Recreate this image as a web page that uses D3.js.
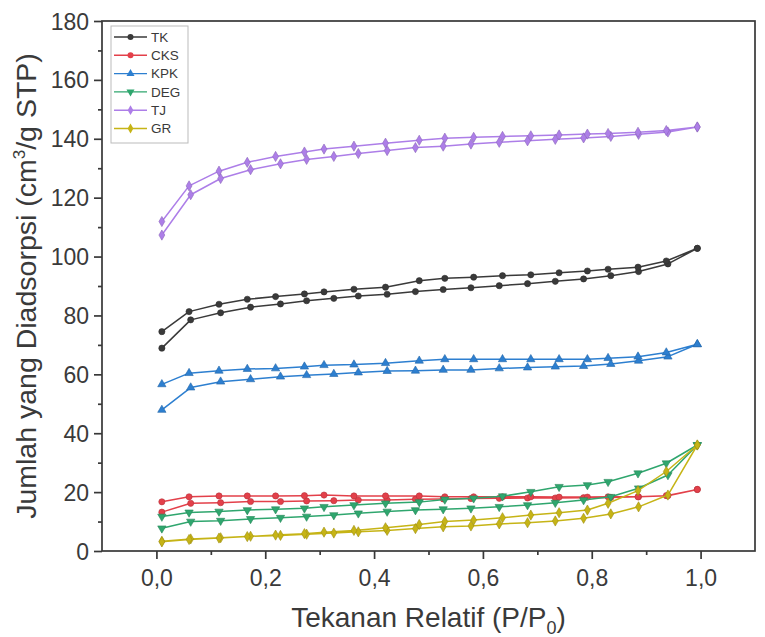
<!DOCTYPE html>
<html>
<head>
<meta charset="utf-8">
<script src="https://cdn.jsdelivr.net/npm/d3@7"></script>
<style>
  html, body { margin: 0; padding: 0; background: #fff; }
  svg { display: block; font-family: "Liberation Sans", Arial, sans-serif; }
</style>
</head>
<body>
<svg id="chart" width="765" height="637"></svg>
<script>
// Relative pressure points (adsorption: rising, desorption: falling)
const adsP = [0.010, 0.063, 0.118, 0.173, 0.228, 0.276, 0.326, 0.371, 0.424, 0.476,
              0.527, 0.578, 0.630, 0.682, 0.733, 0.785, 0.835, 0.886, 0.940, 0.994];
const desP = [0.994, 0.937, 0.885, 0.830, 0.792, 0.740, 0.688, 0.636, 0.583, 0.530,
              0.483, 0.421, 0.363, 0.308, 0.272, 0.219, 0.167, 0.115, 0.060, 0.010];

// Adsorbed volume (cm3/g STP)
const tkAds  = [68.9, 78.5, 80.9, 82.8, 83.9, 85.0, 85.8, 86.6, 87.2, 88.1,
                88.8, 89.4, 90.1, 90.8, 91.6, 92.4, 93.5, 94.9, 97.5, 102.8];
const tkDes  = [102.8, 98.5, 96.4, 95.7, 95.1, 94.5, 93.8, 93.5, 93.0, 92.6,
                91.8, 89.6, 88.9, 88.0, 87.3, 86.4, 85.5, 83.8, 81.3, 74.5];
const cksAds = [13.2, 16.2, 16.4, 16.8, 16.8, 17.0, 17.1, 17.3, 17.3, 17.6,
                17.7, 17.8, 17.9, 18.0, 18.0, 18.1, 18.2, 18.4, 18.8, 20.9];
const cksDes = [20.9, 18.8, 18.4, 18.4, 18.3, 18.3, 18.4, 18.4, 18.4, 18.4,
                18.7, 18.7, 18.7, 19.0, 18.8, 18.7, 18.7, 18.7, 18.4, 16.7];
const kpkAds = [47.9, 55.5, 57.5, 58.3, 59.2, 59.7, 60.1, 60.6, 61.1, 61.2,
                61.5, 61.5, 62.0, 62.3, 62.6, 62.8, 63.5, 64.6, 66.0, 70.2];
const kpkDes = [70.2, 67.4, 66.0, 65.5, 65.1, 65.1, 65.1, 65.1, 65.1, 65.1,
                64.6, 63.8, 63.3, 63.1, 62.6, 62.0, 61.8, 61.2, 60.4, 56.6];
const degAds = [7.7, 10.0, 10.3, 10.9, 11.3, 11.7, 12.2, 12.8, 13.4, 13.9,
                14.2, 14.5, 15.0, 15.6, 16.4, 17.3, 18.4, 21.3, 25.8, 36.0];
const degDes = [36.0, 29.8, 26.4, 23.5, 22.4, 21.8, 20.1, 18.6, 17.9, 17.5,
                16.6, 16.2, 15.6, 15.0, 14.5, 14.2, 13.9, 13.4, 13.1, 11.7];
const tjAds  = [107.3, 121.0, 126.5, 129.5, 131.5, 133.0, 134.0, 135.0, 136.0, 137.0,
                137.5, 138.2, 138.8, 139.3, 139.8, 140.3, 140.8, 141.5, 142.3, 144.0];
const tjDes  = [144.0, 142.8, 142.2, 141.8, 141.6, 141.3, 141.0, 140.8, 140.5, 140.2,
                139.5, 138.5, 137.5, 136.5, 135.5, 134.0, 132.0, 129.0, 124.0, 111.9];
const grAds  = [3.3, 4.1, 4.5, 5.0, 5.3, 5.7, 6.1, 6.5, 7.0, 7.6,
                8.2, 8.5, 9.2, 9.6, 10.2, 11.1, 12.6, 15.0, 19.0, 36.0];
const grDes  = [36.0, 27.0, 20.5, 16.2, 13.9, 13.0, 12.2, 11.3, 10.5, 10.0,
                9.0, 7.9, 7.0, 6.4, 5.9, 5.4, 4.9, 4.4, 3.9, 3.1];

const seriesNames = ["TK", "CKS", "KPK", "DEG", "TJ", "GR"];
const seriesAds = [tkAds, cksAds, kpkAds, degAds, tjAds, grAds];
const seriesDes = [tkDes, cksDes, kpkDes, degDes, tjDes, grDes];
const seriesColors = ["#3a3a3a", "#e3404a", "#2d7fd0", "#2fa66e", "#ad7ee8", "#c6b416"];
const seriesSymbols = [d3.symbolCircle, d3.symbolCircle, d3.symbolTriangle,
                       d3.symbolTriangle, d3.symbolDiamond, d3.symbolDiamond];
const symbolRotate = [0, 0, 0, 180, 0, 0];

const xTicks = [0, 0.2, 0.4, 0.6, 0.8, 1.0];
const yTicks = [0, 20, 40, 60, 80, 100, 120, 140, 160, 180];

const svg = d3.select("#chart");
const plotLeft = 102, plotRight = 755, plotTop = 21, plotBottom = 551;

const x = d3.scaleLinear().domain([-0.1, 1.1]).range([plotLeft, plotRight]);
const y = d3.scaleLinear().domain([0, 180]).range([plotBottom, plotTop]);

const axisColor = "#383838";
const textColor = "#3a3a3a";

// Frame
svg.append("rect")
  .attr("x", plotLeft).attr("y", plotTop)
  .attr("width", plotRight - plotLeft).attr("height", plotBottom - plotTop)
  .attr("fill", "none").attr("stroke", axisColor).attr("stroke-width", 1.7);

// Bottom axis
const fmt = d => d3.format(".1f")(d).replace(".", ",");
const xAxis = d3.axisBottom(x).tickValues(xTicks).tickFormat(fmt).tickSize(8).tickPadding(6);
const gx = svg.append("g").attr("transform", `translate(0,${plotBottom})`).call(xAxis);
const xMinor = d3.axisBottom(x).tickValues([0.1, 0.3, 0.5, 0.7, 0.9]).tickFormat("").tickSize(4);
const gxm = svg.append("g").attr("transform", `translate(0,${plotBottom})`).call(xMinor);

// Left axis
const yAxis = d3.axisLeft(y).tickValues(yTicks).tickFormat(d3.format("d")).tickSize(8).tickPadding(5);
const gy = svg.append("g").attr("transform", `translate(${plotLeft},0)`).call(yAxis);
const yMinor = d3.axisLeft(y).tickValues(d3.range(10, 180, 20)).tickFormat("").tickSize(4);
const gym = svg.append("g").attr("transform", `translate(${plotLeft},0)`).call(yMinor);

[gx, gxm, gy, gym].forEach(g => {
  g.select(".domain").remove();
  g.selectAll(".tick line").attr("stroke", axisColor).attr("stroke-width", 1.7);
  g.selectAll(".tick text").attr("fill", textColor).attr("font-size", 23)
    .attr("font-family", "Liberation Sans, Arial, sans-serif");
});
gx.selectAll(".tick text").attr("dy", "0.9em");
gy.selectAll(".tick text").attr("dy", "0.35em");

// Axis titles
const xt = svg.append("text")
  .attr("x", x(0.5)).attr("y", 627)
  .attr("text-anchor", "middle").attr("font-size", 28).attr("fill", textColor);
xt.append("tspan").text("Tekanan Relatif (P/P");
xt.append("tspan").attr("font-size", 18).attr("dy", 7).text("0");
xt.append("tspan").attr("dy", -7).text(")");

const yt = svg.append("text")
  .attr("transform", `translate(36,${y(90)}) rotate(-90)`)
  .attr("text-anchor", "middle").attr("font-size", 28.5).attr("fill", textColor);
yt.append("tspan").text("Jumlah yang Diadsorpsi (cm");
yt.append("tspan").attr("font-size", 17).attr("dy", -11).text("3");
yt.append("tspan").attr("dy", 11).text("/g STP)");

// Isotherm loops: adsorption branch followed by desorption branch
const line = d3.line().x(d => x(d[0])).y(d => y(d[1]));
const plot = svg.append("g");

seriesNames.forEach((name, i) => {
  const pts = adsP.map((p, k) => [p, seriesAds[i][k]])
    .concat(desP.map((p, k) => [p, seriesDes[i][k]]));
  const g = plot.append("g");
  g.append("path")
    .attr("d", line(pts))
    .attr("fill", "none")
    .attr("stroke", seriesColors[i])
    .attr("stroke-width", 1.5)
    .attr("stroke-linejoin", "round");
  const sym = d3.symbol().type(seriesSymbols[i]).size(30);
  g.selectAll("path.mk")
    .data(pts)
    .join("path")
    .attr("class", "mk")
    .attr("d", sym)
    .attr("transform", d => `translate(${x(d[0])},${y(d[1])}) rotate(${symbolRotate[i]})`)
    .attr("fill", seriesColors[i])
    .attr("stroke", d3.color(seriesColors[i]).darker(0.6))
    .attr("stroke-width", 0.6);
});

// Legend
const lg = svg.append("g");
lg.append("rect")
  .attr("x", 111).attr("y", 26).attr("width", 77).attr("height", 117)
  .attr("fill", "#fff").attr("stroke", "#bbb").attr("stroke-width", 1);
seriesNames.forEach((name, i) => {
  const cy = 37 + i * 18.3;
  lg.append("line")
    .attr("x1", 114).attr("x2", 147).attr("y1", cy).attr("y2", cy)
    .attr("stroke", seriesColors[i]).attr("stroke-width", 1.4);
  lg.append("path")
    .attr("d", d3.symbol().type(seriesSymbols[i]).size(28)())
    .attr("transform", `translate(130.5,${cy}) rotate(${symbolRotate[i]})`)
    .attr("fill", seriesColors[i]);
  lg.append("text")
    .attr("x", 151).attr("y", cy).attr("dy", "0.36em")
    .attr("font-size", 13.5).attr("fill", textColor).text(name);
});
</script>
</body>
</html>
